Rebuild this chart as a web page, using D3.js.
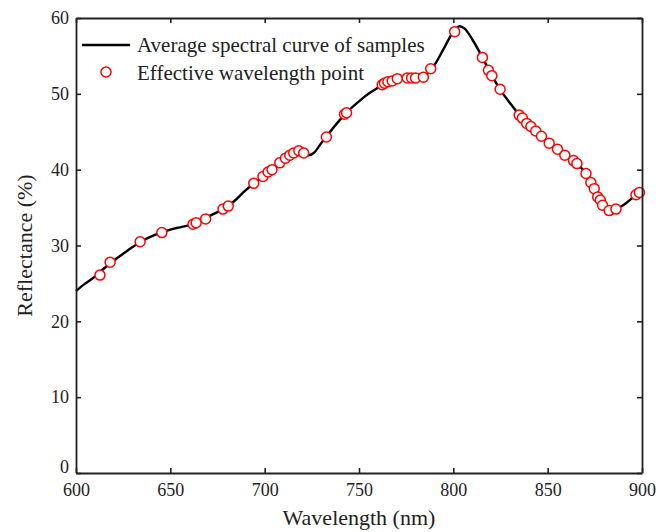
<!DOCTYPE html>
<html><head><meta charset="utf-8">
<script src="https://cdn.jsdelivr.net/npm/d3@7"></script>
<style>body{margin:0;background:#fff}svg{display:block}text{font-family:"Liberation Serif","Times New Roman",serif;fill:#222}</style>
</head><body>
<script>
const curveWl = [600,605,610,615,620,625,630,635,640,645,650,655,660,665,670,675,680,685,690,695,700,705,710,715,718,720,723,726,730,735,740,745,750,755,760,765,770,775,780,785,790,795,800,803,806,810,815,820,825,830,835,840,845,850,855,860,865,870,875,878,880,882,885,890,895,900];
const curveVal = [24.0,25.0,25.9,27.0,28.0,28.9,29.8,30.6,31.2,31.7,32.1,32.4,32.7,33.2,33.8,34.4,35.1,36.1,37.3,38.3,39.3,40.2,41.3,42.1,42.4,42.3,41.9,42.2,43.5,45.1,46.6,47.9,49.0,50.0,50.8,51.5,51.9,52.1,52.1,52.4,53.8,56.0,58.2,58.9,58.6,57.2,55.0,52.6,50.5,48.8,47.2,45.9,44.8,43.7,42.7,41.8,40.9,39.6,37.5,35.9,35.1,34.6,34.7,35.3,36.3,37.4];
const pointWl = [612.7,618.1,634.0,645.5,662.0,663.7,668.7,677.9,680.7,694.2,699.1,701.8,703.9,708.0,711.0,713.3,715.4,718.1,720.7,732.7,742.3,743.4,762.3,763.5,765.3,767.6,770.3,775.6,777.9,780.0,784.1,788.0,800.7,815.4,818.6,820.4,824.8,834.9,836.6,838.9,841.1,843.7,846.7,850.8,855.2,859.1,863.7,865.5,870.3,872.9,874.7,876.5,877.9,879.1,882.6,886.2,896.8,898.6];
const pointVal = [26.1,27.8,30.5,31.7,32.8,33.0,33.5,34.8,35.2,38.2,39.1,39.7,40.0,40.9,41.5,41.9,42.2,42.5,42.2,44.3,47.3,47.5,51.2,51.4,51.6,51.7,52.0,52.1,52.1,52.1,52.2,53.3,58.2,54.8,53.1,52.4,50.6,47.2,46.8,46.1,45.7,45.1,44.4,43.5,42.7,41.9,41.2,40.8,39.5,38.3,37.5,36.4,36.0,35.3,34.6,34.8,36.7,37.0];
const xTicks = [600,650,700,750,800,850,900];
const yTicks = [0,10,20,30,40,50,60];
const legendLabels = ["Average spectral curve of samples","Effective wavelength point"];

const W=672,H=532;
const svg=d3.select("body").append("svg").attr("width",W).attr("height",H);
const x=d3.scaleLinear().domain([600,900]).range([76,642]);
const y=d3.scaleLinear().domain([0,60]).range([473,18]);

const line=d3.line().x((d,i)=>x(curveWl[i])).y((d,i)=>y(curveVal[i])).curve(d3.curveCatmullRom.alpha(0.5));
svg.append("path").datum(curveVal).attr("d",line).attr("fill","none").attr("stroke","#000").attr("stroke-width",2.4);

svg.append("g").selectAll("circle").data(pointVal).join("circle")
  .attr("cx",(d,i)=>x(pointWl[i])).attr("cy",d=>y(d)).attr("r",5)
  .attr("fill","#fff").attr("stroke","#ff0000").attr("stroke-width",1.5);

// axes
const fs=18;
const gb=svg.append("g").attr("transform",`translate(0,${y(0)})`).call(d3.axisBottom(x).tickValues(xTicks).tickSizeInner(-5).tickSizeOuter(0).tickPadding(10));
const gt=svg.append("g").attr("transform",`translate(0,${y(60)})`).call(d3.axisTop(x).tickValues(xTicks).tickSizeInner(-5).tickSizeOuter(0).tickFormat(""));
const gl=svg.append("g").attr("transform",`translate(${x(600)},0)`).call(d3.axisLeft(y).tickValues(yTicks).tickSizeInner(-5).tickSizeOuter(0).tickPadding(7));
const gr=svg.append("g").attr("transform",`translate(${x(900)},0)`).call(d3.axisRight(y).tickValues(yTicks).tickSizeInner(-5).tickSizeOuter(0).tickFormat(""));
[gb,gt,gl,gr].forEach(g=>{
  g.attr("font-family","Liberation Serif");
  g.select(".domain").attr("stroke","#222").attr("stroke-width",1.8);
  g.selectAll(".tick line").attr("stroke","#222").attr("stroke-width",1.6);
  g.selectAll(".tick text").attr("font-size",fs).attr("fill","#222");
});
gl.selectAll(".tick text").filter(d=>d===0).attr("y",-6);

svg.append("text").attr("x",(x(600)+x(900))/2).attr("y",525).attr("text-anchor","middle").attr("font-size",22).text("Wavelength (nm)");
svg.append("text").attr("transform",`translate(32,${(y(0)+y(60))/2}) rotate(-90)`).attr("text-anchor","middle").attr("font-size",22).text("Reflectance (%)");

// legend
svg.append("line").attr("x1",82).attr("x2",130).attr("y1",45).attr("y2",45).attr("stroke","#000").attr("stroke-width",2.4);
svg.append("circle").attr("cx",106).attr("cy",72).attr("r",5).attr("fill","#fff").attr("stroke","#ff0000").attr("stroke-width",1.5);
svg.append("text").attr("x",137).attr("y",52).attr("font-size",21).text(legendLabels[0]);
svg.append("text").attr("x",137).attr("y",80).attr("font-size",21).text(legendLabels[1]);
</script>
</body></html>
